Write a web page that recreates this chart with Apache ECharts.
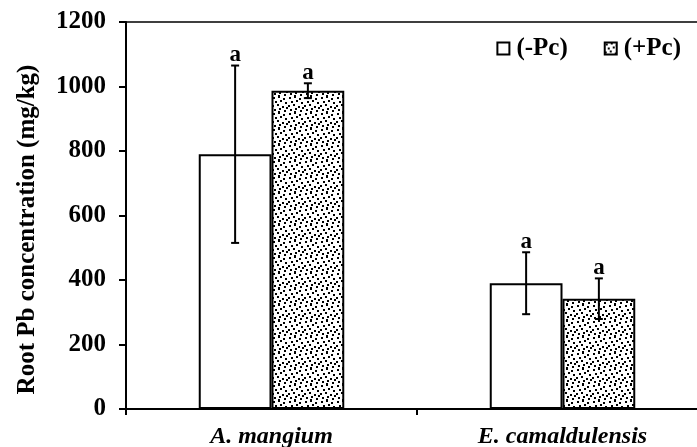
<!DOCTYPE html>
<html>
<head>
<meta charset="utf-8">
<script src="https://cdn.jsdelivr.net/npm/echarts@6/dist/echarts.min.js"></script>
<style>
html,body{margin:0;padding:0;background:#fff;overflow:hidden;}
/* the source figure is cropped on the right, so the chart runs a bit past the window */
#chart{width:708px;height:447px;}
</style>
</head>
<body>
<div id="chart"></div>
<script>
// data
var species = ['A. mangium', 'E. camaldulensis'];
var minusPc = [790, 390];
var plusPc = [987, 342];
var minusPcErr = [275, 96];
var plusPcErr = [23, 63];
var minusPcLetter = ['a', 'a'];
var plusPcLetter = ['a', 'a'];
var yTicks = [0, 200, 400, 600, 800, 1000, 1200];

var font = 'Liberation Serif';

// dotted fill like the print stipple
function makeDots(){
    var c = document.createElement('canvas');
    c.width = 16; c.height = 16;
    var ctx = c.getContext('2d');
    ctx.fillStyle = '#fff';
    ctx.fillRect(0, 0, 16, 16);
    ctx.fillStyle = '#000';
    var pts = [[1,1],[6,0],[11,2],[3,5],[8,4],[13,6],[0,9],[5,8],[10,10],[14,11],[2,13],[7,12],[12,14],[6,15]];
    pts.forEach(function(p){ ctx.fillRect(p[0], p[1], 2, 2); });
    return c;
}
var dots = makeDots();

var errData = [];
species.forEach(function(s, i){
    errData.push([i, minusPc[i], minusPcErr[i], 0, minusPcLetter[i]]);
    errData.push([i, plusPc[i], plusPcErr[i], 1, plusPcLetter[i]]);
});

function renderErr(params, api){
    var cat = api.value(0), mean = api.value(1), err = api.value(2), grp = api.value(3);
    var catW = api.size([1, 0])[0];
    var barW = catW * 0.25;
    var x = api.coord([cat, mean])[0] + (grp - 0.5) * barW;
    var yTop = api.coord([cat, mean + err])[1];
    var yBot = api.coord([cat, mean - err])[1];
    var st = {stroke: '#000', lineWidth: 2};
    return {
        type: 'group',
        children: [
            {type: 'line', shape: {x1: x, y1: yTop, x2: x, y2: yBot}, style: st},
            {type: 'line', shape: {x1: x - 4, y1: yTop, x2: x + 4, y2: yTop}, style: st},
            {type: 'line', shape: {x1: x - 4, y1: yBot, x2: x + 4, y2: yBot}, style: st},
            {type: 'text', x: x, y: yTop + 1, style: {
                text: errData[params.dataIndex][4], fill: '#000',
                font: 'bold 23px "' + font + '"', align: 'center', verticalAlign: 'bottom'
            }}
        ]
    };
}

var chart = echarts.init(document.getElementById('chart'));
var option = {
    backgroundColor: '#fff',
    animation: false,
    grid: {
        left: 126, top: 22, bottom: 38, right: 0,
        outerBoundsMode: 'none',
        show: true, borderColor: '#000', borderWidth: 1.5, backgroundColor: 'transparent'
    },
    legend: {
        data: ['(-Pc)', '(+Pc)'],
        right: 22, top: 31,
        itemWidth: 12, itemHeight: 12, itemGap: 36,
        icon: 'rect',
        textStyle: {fontFamily: font, fontWeight: 'bold', fontSize: 25, color: '#000', padding: [0, 0, 0, 2]}
    },
    xAxis: {
        type: 'category',
        data: species,
        axisLine: {lineStyle: {color: '#000', width: 2}},
        axisTick: {show: true, length: 6, lineStyle: {color: '#000', width: 2}},
        axisLabel: {
            fontFamily: font, fontWeight: 'bold', fontStyle: 'italic', fontSize: 24,
            color: '#000', margin: 16
        },
        splitLine: {show: false}
    },
    yAxis: {
        type: 'value',
        min: yTicks[0], max: yTicks[yTicks.length - 1], interval: 200,
        name: 'Root Pb concentration (mg/kg)',
        nameLocation: 'middle', nameGap: 86,
        nameTextStyle: {fontFamily: font, fontWeight: 'bold', fontSize: 25, color: '#000', padding: [0, 28, 0, 0]},
        axisLine: {show: true, lineStyle: {color: '#000', width: 2}},
        axisTick: {show: true, length: 7, lineStyle: {color: '#000', width: 2}},
        axisLabel: {
            fontFamily: font, fontWeight: 'bold', fontSize: 25, color: '#000', margin: 20,
            formatter: function(v){ return String(v); }
        },
        splitLine: {show: false}
    },
    series: [
        {
            name: '(-Pc)', type: 'bar', data: minusPc,
            barWidth: '25%', barGap: '0%',
            itemStyle: {color: '#fff', borderColor: '#000', borderWidth: 2}
        },
        {
            name: '(+Pc)', type: 'bar', data: plusPc,
            barWidth: '25%', barGap: '0%',
            itemStyle: {color: {image: dots, repeat: 'repeat'}, borderColor: '#000', borderWidth: 2}
        },
        {
            name: 'err', type: 'custom', renderItem: renderErr, data: errData,
            encode: {x: 0, y: 1}, z: 10, silent: true
        }
    ]
};
chart.setOption(option);
</script>
</body>
</html>
